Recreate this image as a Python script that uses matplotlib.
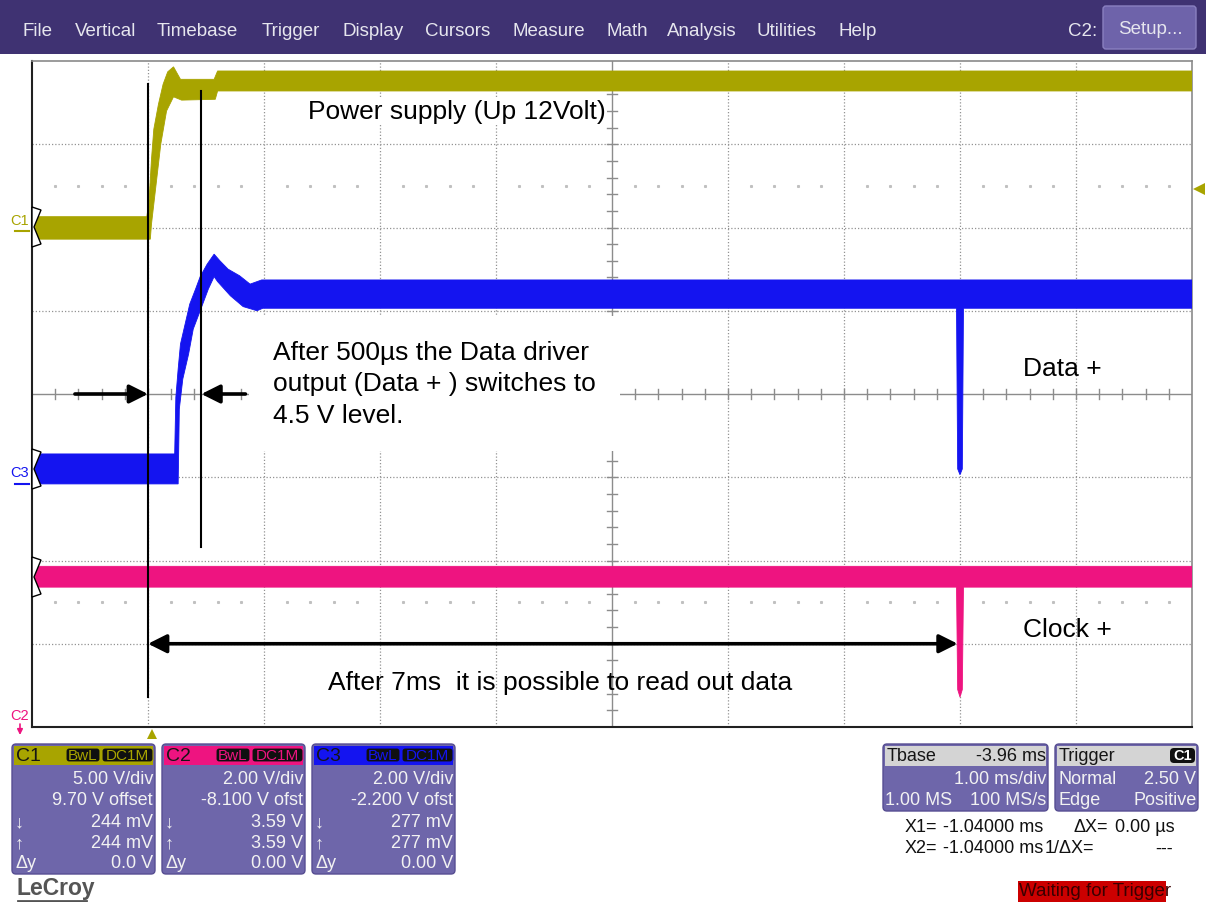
import matplotlib
matplotlib.use('Agg')
import matplotlib.pyplot as plt
from matplotlib.patches import Polygon, FancyBboxPatch, Rectangle

plt.rcParams['font.family'] = ['Liberation Sans', 'DejaVu Sans']

W, H = 1206, 903

# ---- trace envelopes: time in ms (trigger at 0), level in screen divisions ----
c1_up_t = [-0.99, -0.01, 0.01, 0.03, 0.05, 0.09, 0.13, 0.17, 0.22, 0.28, 0.57, 0.60, 9.0]
c1_up_v = [2.13, 2.13, 2.34, 2.82, 3.18, 3.48, 3.72, 3.87, 3.93, 3.78, 3.78, 3.88, 3.88]
c1_lo_t = [-0.99, 0.02, 0.03, 0.07, 0.11, 0.16, 0.22, 0.29, 0.58, 0.60, 9.0]
c1_lo_v = [1.86, 1.86, 2.04, 2.52, 3.00, 3.40, 3.57, 3.53, 3.54, 3.64, 3.64]

c3_up_t = [-0.99, 0.23, 0.24, 0.26, 0.28, 0.32, 0.36, 0.41, 0.45, 0.51, 0.57, 0.62, 0.69, 0.79, 0.88, 0.98, 9.0]
c3_up_v = [-0.72, -0.72, -0.04, 0.30, 0.60, 0.84, 1.08, 1.26, 1.41, 1.56, 1.68, 1.60, 1.50, 1.42, 1.32, 1.37, 1.37]
c3_lo_t = [-0.99, 0.25, 0.26, 0.27, 0.30, 0.35, 0.39, 0.45, 0.52, 0.57, 0.60, 0.71, 0.82, 0.94, 0.99,
           6.97, 6.98, 7.00, 7.02, 7.03, 9.0]
c3_lo_v = [-1.08, -1.08, -1.08, -0.18, 0.18, 0.48, 0.78, 1.00, 1.26, 1.41, 1.35, 1.18, 1.05, 1.00, 1.03,
           1.03, -0.90, -0.97, -0.90, 1.03, 1.03]

c2_up_t = [-0.99, 9.0]
c2_up_v = [-2.07, -2.07]
c2_lo_t = [-0.99, 6.97, 6.98, 7.00, 7.02, 7.03, 9.0]
c2_lo_v = [-2.32, -2.32, -3.55, -3.64, -3.55, -2.32, -2.32]

col_c1 = '#A8A400'
col_c2 = '#EE1480'
col_c3 = '#1414F0'

# ---- annotation data ----
t_supply_on = 0.0
t_data_on = 0.46
t_readout = 6.98

menu_items = ['File', 'Vertical', 'Timebase', 'Trigger', 'Display', 'Cursors', 'Measure',
              'Math', 'Analysis', 'Utilities', 'Help']
menu_x = [22, 75, 157, 262, 342, 425, 513, 606, 667, 756, 838]

chan_names = ['C1', 'C2', 'C3']
chan_colors = [col_c1, col_c2, col_c3]
chan_rows = [['5.00 V/div', '9.70 V offset', '244 mV', '244 mV', '0.0 V'],
             ['2.00 V/div', '-8.100 V ofst', '3.59 V', '3.59 V', '0.00 V'],
             ['2.00 V/div', '-2.200 V ofst', '277 mV', '277 mV', '0.00 V']]
row_symbols = ['', '', '\u2193', '\u2191', '\u0394y']

fig = plt.figure(figsize=(W / 100, H / 100), dpi=100)
fig.patch.set_facecolor('white')

# main scope screen
ax = fig.add_axes([32 / W, 1 - 728 / H, 1160 / W, 666 / H], zorder=2)
ax.set_xlim(-1, 9)
ax.set_ylim(-4, 4)
ax.set_xticks([])
ax.set_yticks([])
for s in ['left', 'bottom']:
    ax.spines[s].set_color('#202020')
    ax.spines[s].set_linewidth(1.5)
for s in ['top', 'right']:
    ax.spines[s].set_color('#8a8a8a')
    ax.spines[s].set_linewidth(1.2)

# grid
grid_col = '#939393'
for t in range(0, 9):
    if t == 4:
        continue
    ax.axvline(t, color=grid_col, lw=0.9, ls=(0, (1, 1.6)), zorder=1)
for v in [-3, -2, -1, 1, 2, 3]:
    ax.axhline(v, color=grid_col, lw=0.9, ls=(0, (1, 1.6)), zorder=1)
ax.axhline(0, color='#8c8c8c', lw=1.0, zorder=1)
ax.axvline(4, color='#8c8c8c', lw=1.0, zorder=1)
sub = [i / 5 - 1 for i in range(1, 50)]
for t in sub:
    ax.plot([t, t], [-0.06, 0.06], color='#8c8c8c', lw=1.0, zorder=1)
for i in range(1, 40):
    v = i / 5 - 4
    ax.plot([3.96, 4.04], [v, v], color='#8c8c8c', lw=1.0, zorder=1)
dots = [t for t in sub if abs(t - round(t)) > 0.01]
ax.plot(dots, [2.5] * len(dots), ls='none', marker='s', ms=1.2, color='#c0c0c0', zorder=1)
ax.plot(dots, [-2.5] * len(dots), ls='none', marker='s', ms=1.2, color='#c0c0c0', zorder=1)


def band(t_up, v_up, t_lo, v_lo, color):
    xs = list(t_up) + list(t_lo[::-1])
    ys = list(v_up) + list(v_lo[::-1])
    ax.fill(xs, ys, color=color, ec=color, lw=0.6, zorder=3)


band(c1_up_t, c1_up_v, c1_lo_t, c1_lo_v, col_c1)
band(c3_up_t, c3_up_v, c3_lo_t, c3_lo_v, col_c3)
band(c2_up_t, c2_up_v, c2_lo_t, c2_lo_v, col_c2)

# cursor-like annotation lines
ax.plot([t_supply_on, t_supply_on], [3.72, -3.64], color='black', lw=1.5, zorder=4)
ax.plot([t_data_on, t_data_on], [3.64, -1.84], color='black', lw=1.5, zorder=4)
arrow = dict(arrowstyle='-|>', lw=2.6, color='black', mutation_scale=28, shrinkA=0, shrinkB=0)
ax.annotate('', xy=(t_supply_on, 0), xytext=(-0.63, 0), arrowprops=arrow, zorder=5)
ax.annotate('', xy=(t_data_on, 0), xytext=(0.84, 0), arrowprops=arrow, zorder=5)
ax.annotate('', xy=(t_readout, -3.0), xytext=(t_supply_on, -3.0),
            arrowprops=dict(arrowstyle='<|-|>', lw=2.6, color='black', mutation_scale=28,
                            shrinkA=0, shrinkB=0), zorder=5)

fs = 19
ax.text(1.38, 3.40, 'Power supply (Up 12Volt)', fontsize=fs, va='center', ha='left', zorder=6,
        bbox=dict(boxstyle='square,pad=0.05', fc='white', ec='none'))
ax.text(1.078, 0.65, 'After 500\u00b5s the Data driver\noutput (Data + ) switches to\n4.5 V level.',
        fontsize=fs, va='top', ha='left', linespacing=1.4, zorder=6,
        bbox=dict(boxstyle='square,pad=0.9', fc='white', ec='none'))
ax.text(7.54, 0.31, 'Data +', fontsize=fs, va='center', ha='left', zorder=6)
ax.text(7.54, -2.82, 'Clock +', fontsize=fs, va='center', ha='left', zorder=6)
ax.text(1.55, -3.46, 'After 7ms  it is possible to read out data', fontsize=fs, va='center',
        ha='left', zorder=6)

# ---- UI chrome in pixel coordinates ----
ui = fig.add_axes([0, 0, 1, 1], zorder=3)
ui.set_xlim(0, W)
ui.set_ylim(H, 0)
ui.axis('off')

ui.add_patch(Rectangle((0, 0), W, 55, fc='#3F3272', ec='none'))
for name, x in zip(menu_items, menu_x):
    ui.text(x, 31, name, color='#E6E6EE', fontsize=13.5, va='center', ha='left')
ui.text(1068, 31, 'C2:', color='#E6E6EE', fontsize=13.5, va='center', ha='left')
ui.add_patch(FancyBboxPatch((1103, 7), 93, 43, boxstyle='round,pad=0,rounding_size=3',
                            fc='#6E63AA', ec='#8A80C0', lw=1))
ui.text(1150, 30, 'Setup...', color='#E6E6EE', fontsize=13.5, va='center', ha='center')

# channel ground markers on the left edge
def tab(cy):
    pts = [(32, cy - 20), (41, cy - 17), (34, cy), (41, cy + 17), (32, cy + 20)]
    ui.add_patch(Polygon(pts, closed=True, fc='white', ec='black', lw=1.0, zorder=5))


tab(228)
tab(470)
tab(578)
ui.text(20, 221, 'C1', color=col_c1, fontsize=10.5, ha='center', va='center')
ui.plot([15, 29], [232, 232], color=col_c1, lw=1.5)
ui.text(20, 473, 'C3', color=col_c3, fontsize=10.5, ha='center', va='center')
ui.plot([15, 29], [485, 485], color=col_c3, lw=1.5)
ui.text(20, 716, 'C2', color=col_c2, fontsize=10.5, ha='center', va='center')
ui.annotate('', xy=(20, 736), xytext=(20, 725),
            arrowprops=dict(arrowstyle='-|>', color=col_c2, lw=1.2, mutation_scale=8,
                            shrinkA=0, shrinkB=0))

# trigger markers
ui.add_patch(Polygon([(147, 740), (157, 740), (152, 730)], closed=True, fc=col_c1, ec='none'))
ui.add_patch(Polygon([(1193, 190), (1205, 184), (1205, 196)], closed=True, fc=col_c1, ec='none'))

# channel panels
panel_fc = '#6E66AA'
panel_txt = '#F2F2F2'
pfs = 13
row_y = [780, 801, 823, 844, 864]
for i, (name, col, rows) in enumerate(zip(chan_names, chan_colors, chan_rows)):
    x0 = 12 + 150 * i
    ui.add_patch(FancyBboxPatch((x0, 745), 143, 130, boxstyle='round,pad=0,rounding_size=4',
                                fc=panel_fc, ec='#574E92', lw=1))
    ui.add_patch(Rectangle((x0 + 2, 747), 139, 19, fc=col, ec='none'))
    ui.text(x0 + 4, 757, name, color='#151515', fontsize=14, va='center', ha='left')
    ui.add_patch(FancyBboxPatch((x0 + 54, 749), 34, 14, boxstyle='round,pad=0,rounding_size=3',
                                fc='#101010', ec=col, lw=0.8))
    ui.text(x0 + 71, 756.5, 'BwL', color=col, fontsize=11, va='center', ha='center')
    ui.add_patch(FancyBboxPatch((x0 + 90, 749), 51, 14, boxstyle='round,pad=0,rounding_size=3',
                                fc='#101010', ec=col, lw=0.8))
    ui.text(x0 + 115.5, 756.5, 'DC1M', color=col, fontsize=11, va='center', ha='center')
    for y, s, sym in zip(row_y, rows, row_symbols):
        ui.text(x0 + 141, y, s, color=panel_txt, fontsize=pfs, va='center', ha='right')
        if sym:
            ui.text(x0 + 3, y, sym, color=panel_txt, fontsize=pfs, va='center', ha='left')

ui.text(17, 889, 'LeCroy', color='#555555', fontsize=16.5, fontweight='bold', va='center', ha='left')
ui.plot([18, 86], [902, 902], color='#555555', lw=2)

# timebase / trigger panels
ui.add_patch(FancyBboxPatch((883, 745), 165, 67, boxstyle='round,pad=0,rounding_size=4',
                            fc=panel_fc, ec='#574E92', lw=1))
ui.add_patch(Rectangle((885, 747), 161, 20, fc='#D4D4D4', ec='none'))
ui.text(887, 757, 'Tbase', color='#151515', fontsize=pfs, va='center', ha='left')
ui.text(1046, 757, '-3.96 ms', color='#151515', fontsize=pfs, va='center', ha='right')
ui.text(1046, 780, '1.00 ms/div', color=panel_txt, fontsize=pfs, va='center', ha='right')
ui.text(885, 801, '1.00 MS', color=panel_txt, fontsize=pfs, va='center', ha='left')
ui.text(1046, 801, '100 MS/s', color=panel_txt, fontsize=pfs, va='center', ha='right')

ui.add_patch(FancyBboxPatch((1055, 745), 143, 67, boxstyle='round,pad=0,rounding_size=4',
                            fc=panel_fc, ec='#574E92', lw=1))
ui.add_patch(Rectangle((1057, 747), 139, 20, fc='#D4D4D4', ec='none'))
ui.text(1059, 757, 'Trigger', color='#151515', fontsize=pfs, va='center', ha='left')
ui.add_patch(FancyBboxPatch((1170, 749), 25, 15, boxstyle='round,pad=0,rounding_size=4',
                            fc='#101010', ec='none'))
ui.text(1182.5, 756.5, 'C1', color='white', fontsize=10.5, fontweight='bold', va='center', ha='center')
ui.text(1058, 780, 'Normal', color=panel_txt, fontsize=pfs, va='center', ha='left')
ui.text(1196, 780, '2.50 V', color=panel_txt, fontsize=pfs, va='center', ha='right')
ui.text(1058, 801, 'Edge', color=panel_txt, fontsize=pfs, va='center', ha='left')
ui.text(1197, 801, 'Positive', color=panel_txt, fontsize=pfs, va='center', ha='right')

# cursor readouts
ui.text(905, 828, 'X1=', color='#111111', fontsize=pfs, va='center', ha='left')
ui.text(1043, 828, '-1.04000 ms', color='#111111', fontsize=pfs, va='center', ha='right')
ui.text(1073, 828, '\u0394X=', color='#111111', fontsize=pfs, va='center', ha='left')
ui.text(1175, 828, '0.00 \u00b5s', color='#111111', fontsize=pfs, va='center', ha='right')
ui.text(905, 849, 'X2=', color='#111111', fontsize=pfs, va='center', ha='left')
ui.text(1043, 849, '-1.04000 ms', color='#111111', fontsize=pfs, va='center', ha='right')
ui.text(1045, 849, '1/\u0394X=', color='#111111', fontsize=pfs, va='center', ha='left')
ui.text(1173, 849, '---', color='#111111', fontsize=pfs, va='center', ha='right')

ui.add_patch(Rectangle((1018, 882), 148, 21, fc='#CC0000', ec='none'))
ui.text(1019, 892, 'Waiting for Trigger', color='#3A0000', fontsize=13.5, va='center', ha='left')

fig.savefig('out.png', dpi=100)
